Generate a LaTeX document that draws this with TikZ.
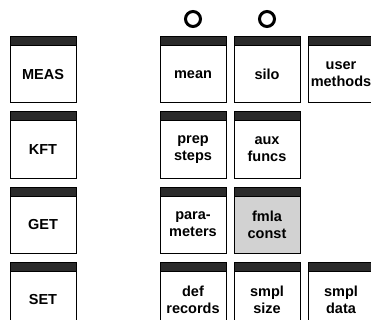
\documentclass[tikz,border=0pt]{standalone}
\usepackage{fontspec}
\setmainfont{Liberation Sans}
\usepackage{xcolor}
\definecolor{barfill}{HTML}{2B2B2B}
\definecolor{constfill}{HTML}{D2D2D2}
\usetikzlibrary{positioning}

\begin{document}
\begin{tikzpicture}[
        x=1pt, y=1pt,
        node distance=18pt and 8pt,
        topbar/.style={rectangle, draw, line width=1pt, fill=barfill, minimum width=66pt, minimum height=9pt, inner sep=0pt, outer sep=0pt},
        cell/.style={rectangle, draw, line width=1pt, minimum width=66pt, minimum height=57pt, inner sep=0pt, outer sep=0pt, align=center, font=\fontsize{14.5}{17}\selectfont\bfseries, label={[topbar]above:{}}},
        constcell/.style={cell, fill=constfill},
        ring/.style={circle, draw, line width=3pt, minimum size=15pt, inner sep=0pt}
    ]

    \clip (0,0) rectangle (371,-320);

    % Command column
    \node[cell] (meas) at (43,-74.5) {MEAS};
    \node[cell, below=of meas] (kft) {KFT};
    \node[cell, below=of kft] (get) {GET};
    \node[cell, below=of get] (set) {SET};

    % Data blocks
    \node[cell, right=84pt of meas] (mean) {mean};
    \node[cell, right=of mean] (silo) {silo};
    \node[cell, right=of silo] (usermeth) {user\\methods};

    \node[cell, below=of mean] (prep) {prep\\steps};
    \node[cell, right=of prep] (aux) {aux\\funcs};

    \node[cell, below=of prep] (params) {para-\\meters};
    \node[constcell, right=of params] (fmla) {fmla\\const};

    \node[cell, below=of params] (defrec) {def\\records};
    \node[cell, right=of defrec] (ssize) {smpl\\size};
    \node[cell, right=of ssize] (sdata) {smpl\\data};

    % Markers
    \node[ring] (ringmean) at ([yshift=27pt]mean.north) {};
    \node[ring] (ringsilo) at ([yshift=27pt]silo.north) {};

\end{tikzpicture}
\end{document}
